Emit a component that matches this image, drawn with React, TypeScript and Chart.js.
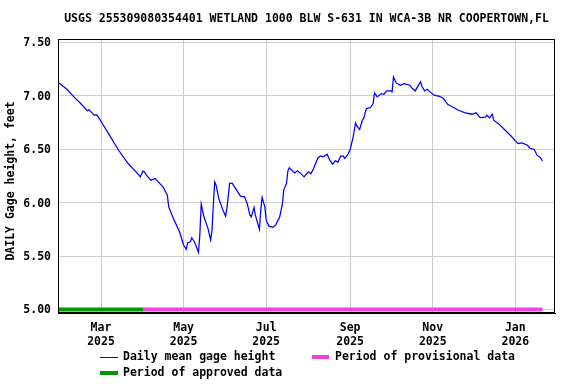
import React, { useEffect, useRef } from "react";
import { Chart, registerables } from "chart.js";

Chart.register(...registerables);

const TITLE = "USGS 255309080354401 WETLAND 1000 BLW S-631 IN WCA-3B NR COOPERTOWN,FL";
const Y_TITLE = "DAILY Gage height, feet";

// Day numbers counted from 2025-01-01 (day 0)
const days = [
  28, 34, 39, 44, 49, 50, 54, 56, 60, 66, 72, 79, 84, 87, 88, 90, 91, 93, 96, 99,
  102, 105, 108, 109, 113, 117, 120, 122, 123, 125, 126, 128, 131, 132, 133, 135, 138, 140, 141, 142,
  143, 144, 146, 149, 151, 152, 154, 156, 160, 162, 165, 167, 169, 170, 172, 173, 176, 177, 178, 180,
  181, 183, 186, 188, 191, 193, 194, 196, 197, 198, 202, 204, 206, 209, 212, 214, 216, 219, 221, 223,
  226, 228, 230, 232, 234, 236, 238, 239, 241, 243, 245, 247, 248, 250, 252, 253, 255, 258, 260, 261,
  263, 266, 268, 270, 273, 274, 275, 277, 280, 283, 287, 289, 291, 295, 296, 298, 300, 302, 305, 309,
  312, 315, 318, 323, 328, 333, 336, 339, 343, 344, 346, 348, 349, 353, 357, 362, 365, 367, 370, 374,
  376, 379, 381, 383, 385,
];

// Daily mean gage height, feet
const gageHeight = [
  7.12, 7.058, 6.989, 6.927, 6.858, 6.871, 6.818, 6.82, 6.74, 6.615, 6.49, 6.366, 6.3, 6.257, 6.241, 6.294, 6.288, 6.25, 6.21, 6.226,
  6.185, 6.142, 6.07, 5.96, 5.836, 5.727, 5.603, 5.563, 5.624, 5.634, 5.671, 5.634, 5.535, 5.7, 5.986, 5.867, 5.759, 5.65, 5.743, 5.99,
  6.194, 6.164, 6.04, 5.93, 5.874, 5.946, 6.18, 6.18, 6.1, 6.061, 6.054, 5.99, 5.883, 5.867, 5.955, 5.883, 5.75, 5.93, 6.048, 5.96,
  5.836, 5.78, 5.768, 5.79, 5.867, 5.99, 6.12, 6.18, 6.294, 6.325, 6.278, 6.297, 6.278, 6.241, 6.288, 6.27, 6.32, 6.413, 6.437, 6.428,
  6.453, 6.397, 6.36, 6.391, 6.379, 6.435, 6.435, 6.413, 6.444, 6.497, 6.6, 6.746, 6.715, 6.684, 6.771, 6.787, 6.88, 6.89, 6.927, 7.026,
  6.989, 7.02, 7.014, 7.045, 7.045, 7.036, 7.176, 7.12, 7.098, 7.114, 7.098, 7.067, 7.045, 7.13, 7.089, 7.045, 7.06, 7.036, 7.005, 6.995,
  6.974, 6.92, 6.9, 6.864, 6.84, 6.827, 6.84, 6.796, 6.8, 6.818, 6.793, 6.827, 6.771, 6.734, 6.684, 6.621, 6.578, 6.553, 6.559, 6.537,
  6.507, 6.497, 6.444, 6.428, 6.39,
];

const monthTickDays = [59, 120, 181, 243, 304, 365];
const monthTickLabels = [
  ["Mar", "2025"],
  ["May", "2025"],
  ["Jul", "2025"],
  ["Sep", "2025"],
  ["Nov", "2025"],
  ["Jan", "2026"],
];
const yTickValues = [5.0, 5.5, 6.0, 6.5, 7.0, 7.5];

const approvedPeriod = [28, 90];
const provisionalPeriod = [90, 385];
const periodLevel = 5.0;

const legendLabels = [
  "Daily mean gage height",
  "Period of provisional data",
  "Period of approved data",
];

const FONT = "'DejaVu Sans Mono', monospace";
const BLUE = "#0000ff";
const GREEN = "#009900";
const PINK = "#ee44dd";

const decorPlugin = {
  id: "decor",
  afterDraw(chart: any) {
    const { ctx, chartArea: a } = chart;
    ctx.save();
    ctx.strokeStyle = "#000";
    ctx.lineWidth = 1;
    ctx.strokeRect(a.left + 0.5, a.top + 0.5, a.right - a.left - 1, a.bottom - a.top - 1);

    ctx.fillStyle = "#000";
    ctx.textBaseline = "middle";
    ctx.textAlign = "center";
    ctx.font = `bold 11.5px ${FONT}`;
    ctx.fillText(TITLE, (a.left + a.right) / 2, 19);

    ctx.save();
    ctx.translate(11, 181);
    ctx.rotate(-Math.PI / 2);
    ctx.fillText(Y_TITLE, 0, 0);
    ctx.restore();

    // legend
    ctx.textAlign = "left";
    const row1 = 357;
    const row2 = 373;
    ctx.strokeStyle = BLUE;
    ctx.lineWidth = 1;
    ctx.beginPath();
    ctx.moveTo(100, row1 + 0.5);
    ctx.lineTo(118, row1 + 0.5);
    ctx.stroke();
    ctx.fillText(legendLabels[0], 123, row1);

    ctx.fillStyle = PINK;
    ctx.fillRect(312, row1 - 2, 17, 4);
    ctx.fillStyle = "#000";
    ctx.fillText(legendLabels[1], 335, row1);

    ctx.fillStyle = GREEN;
    ctx.fillRect(100, row2 - 2, 18, 4);
    ctx.fillStyle = "#000";
    ctx.fillText(legendLabels[2], 123, row2);
    ctx.restore();
  },
};

export default function App() {
  const ref = useRef<HTMLCanvasElement>(null);

  useEffect(() => {
    if (!ref.current) return;
    const chart = new Chart(ref.current, {
      type: "line",
      data: {
        datasets: [
          {
            label: legendLabels[0],
            data: days.map((d, i) => ({ x: d, y: gageHeight[i] })),
            borderColor: BLUE,
            borderWidth: 1.25,
            pointRadius: 0,
            tension: 0,
          },
          {
            label: legendLabels[2],
            data: approvedPeriod.map((d) => ({ x: d, y: periodLevel })),
            borderColor: GREEN,
            borderWidth: 4,
            pointRadius: 0,
            borderCapStyle: "butt",
            clip: false as any,
          },
          {
            label: legendLabels[1],
            data: provisionalPeriod.map((d) => ({ x: d, y: periodLevel })),
            borderColor: PINK,
            borderWidth: 4,
            pointRadius: 0,
            borderCapStyle: "butt",
          },
        ],
      },
      options: {
        animation: false,
        responsive: false,
        devicePixelRatio: 1,
        layout: { padding: { top: 39, right: 21, left: 0, bottom: 0 } },
        plugins: {
          legend: { display: false },
          title: { display: false },
          tooltip: { enabled: false },
        },
        scales: {
          x: {
            type: "linear",
            min: 27.24,
            max: 394.3,
            afterFit: (s: any) => {
              s.height = 71;
            },
            afterBuildTicks: (s: any) => {
              s.ticks = monthTickDays.map((v) => ({ value: v }));
            },
            ticks: {
              autoSkip: false,
              maxRotation: 0,
              padding: 8,
              color: "#000",
              font: { family: FONT, size: 11.5, weight: "bold", lineHeight: 1.2 },
              callback: (v: any) => {
                const i = monthTickDays.indexOf(Number(v));
                return i >= 0 ? monthTickLabels[i] : "";
              },
            },
            grid: { color: "#cccccc", lineWidth: 1, drawTicks: false },
            border: { color: "#000", width: 1 },
          },
          y: {
            type: "linear",
            min: 4.967,
            max: 7.531,
            afterFit: (s: any) => {
              s.width = 58;
            },
            afterBuildTicks: (s: any) => {
              s.ticks = yTickValues.map((v) => ({ value: v }));
            },
            ticks: {
              padding: 7,
              labelOffset: 1,
              color: "#000",
              font: { family: FONT, size: 11.5, weight: "bold" },
              callback: (v: any) => Number(v).toFixed(2),
            },
            grid: { color: "#cccccc", lineWidth: 1, drawTicks: false },
            border: { color: "#000", width: 1 },
          },
        },
      },
      plugins: [decorPlugin],
    });
    return () => chart.destroy();
  }, []);

  return (
    <div style={{ position: "fixed", left: 0, top: 0, width: 576, height: 384, background: "#fff" }}>
      <canvas ref={ref} width={576} height={384} style={{ display: "block" }} />
    </div>
  );
}
